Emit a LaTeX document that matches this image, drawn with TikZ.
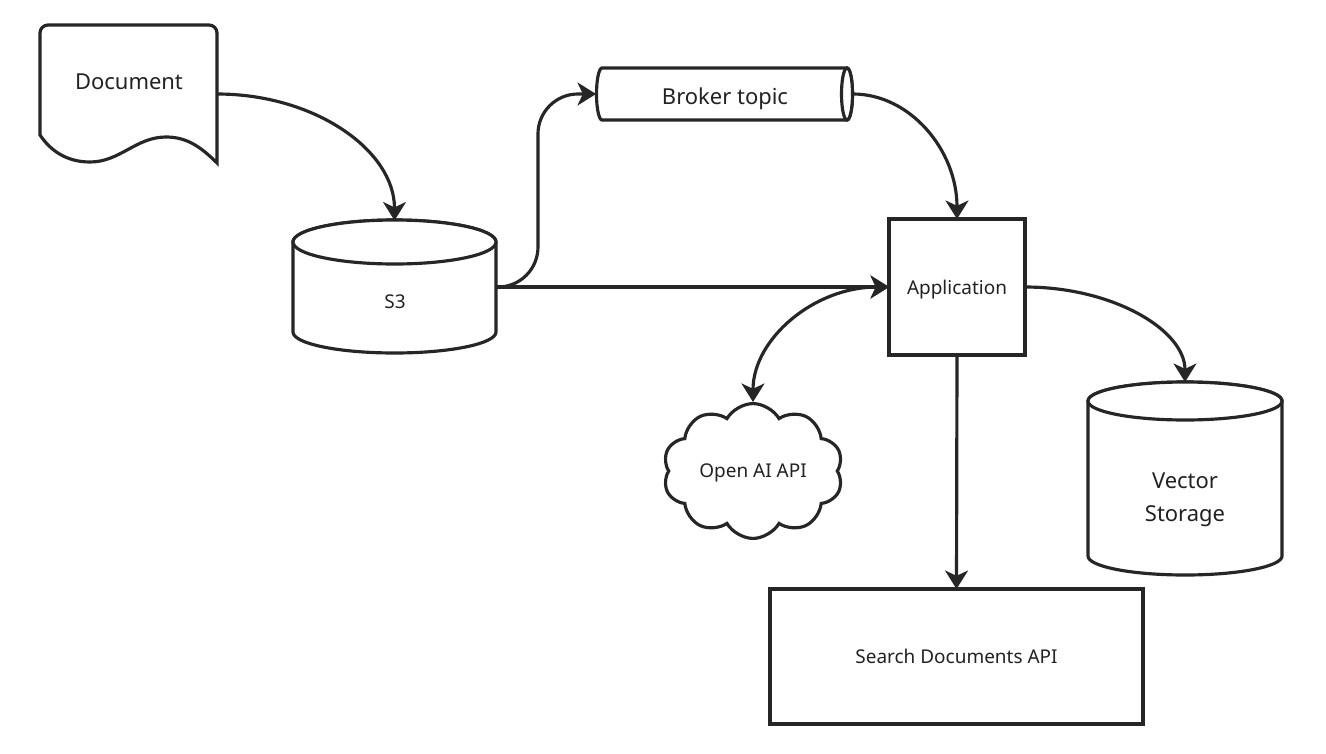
\documentclass[tikz,border=0pt]{standalone}
\usepackage{fontspec}
\setmainfont{Noto Sans}
\usetikzlibrary{arrows.meta,shapes.symbols}
\definecolor{ink}{HTML}{262626}
\definecolor{txt}{HTML}{222222}
\tikzset{
  shp/.style={draw=ink, line width=1.8pt, fill=white},
  boxshp/.style={draw=ink, line width=2.1pt, fill=white},
  tip/.tip={Stealth[length=10.5pt,width=13pt,inset=3pt]},
  conn/.style={draw=ink, line width=1.8pt, -tip},
  twoway/.style={draw=ink, line width=1.8pt, tip-tip},
  bigtxt/.style={font=\fontsize{12.5}{18.7}\selectfont, text=txt, align=center},
  smalltxt/.style={font=\fontsize{10.8}{13}\selectfont, text=txt, align=center, text depth=0pt},
  frame/.style={inner sep=0pt, outer sep=0pt},
}
\begin{document}
\begin{tikzpicture}[x=0.02cm,y=-0.02cm]
\useasboundingbox[fill=white] (0,0) rectangle (1326,754);

% Document
\node[frame, minimum width=3.54cm, minimum height=2.76cm] (doc) at (128.5,94) {};
\filldraw[shp] (40,135) {[rounded corners=0.16cm] -- (40,25) -- (217,25)} -- (217,163)
  .. controls (200,146) and (186,137) .. (166,137)
  .. controls (136,137) and (120,162) .. (90,162)
  .. controls (66,162) and (50,150) .. (40,135) -- cycle;
\node[bigtxt] (doctxt) at (129,82) {Document};

% S3 cylinder
\node[frame, minimum width=4.06cm, minimum height=2.66cm] (s3) at (394.5,287) {};
\filldraw[shp] (293,242) -- (293,332) arc[start angle=180,end angle=0,x radius=101.5,y radius=21]
  -- (496,242) arc[start angle=0,end angle=-180,x radius=101.5,y radius=22] -- cycle;
\draw[shp] (394.5,242) ellipse[x radius=101.5,y radius=22];
\node[smalltxt] (s3txt) at (395,302) {S3};

% Broker topic (horizontal cylinder)
\node[frame, minimum width=5.14cm, minimum height=1.04cm] (broker) at (724.5,94) {};
\filldraw[shp] (602,68) -- (847,68) arc[start angle=-90,end angle=90,x radius=5.5,y radius=26]
  -- (602,120) arc[start angle=90,end angle=270,x radius=5.5,y radius=26] -- cycle;
\draw[shp] (847,94) ellipse[x radius=5.5,y radius=26];
\node[bigtxt] (brokertxt) at (725,99) {Broker topic};

% Application
\node[boxshp, frame, minimum width=2.72cm, minimum height=2.72cm, smalltxt] (app) at (957,287) {Application};

% Vector storage cylinder
\node[frame, minimum width=3.88cm, minimum height=3.86cm] (vec) at (1185,478.5) {};
\filldraw[shp] (1088,401) -- (1088,556) arc[start angle=180,end angle=0,x radius=97,y radius=19]
  -- (1282,401) arc[start angle=0,end angle=-180,x radius=97,y radius=19] -- cycle;
\draw[shp] (1185,401) ellipse[x radius=97,y radius=19];
\node[bigtxt] (vectxt) at (1185,500) {Vector\\Storage};

% Cloud
\node[shp, cloud, cloud puffs=10, cloud puff arc=120, aspect=1.34, inner sep=0pt,
      minimum width=3.6cm, minimum height=2.66cm, smalltxt] (cloud) at (753,471) {Open AI API};

% Search Documents API
\node[boxshp, frame, minimum width=7.46cm, minimum height=2.7cm, smalltxt] (search) at (956.5,656.5) {Search Documents API};

% Connectors
\draw[conn] (doc.east) .. controls +(98,0) and +(0,-70) .. (s3.north);
\draw[conn, rounded corners=0.8cm] (s3.east) -- ++(42,0) |- (broker.west);
\draw[conn] (s3.east) -- (app.west);
\draw[conn] (broker.east) .. controls +(57,0) and +(0,-69) .. (app.north);
\draw[conn] (app.east) .. controls +(88,0) and +(0,-52) .. (vec.north);
\draw[twoway] (app.west) .. controls +(-75,0) and +(0,-63) .. (cloud.north);
\draw[conn] (app.south) -- (search.north);
\end{tikzpicture}
\end{document}
